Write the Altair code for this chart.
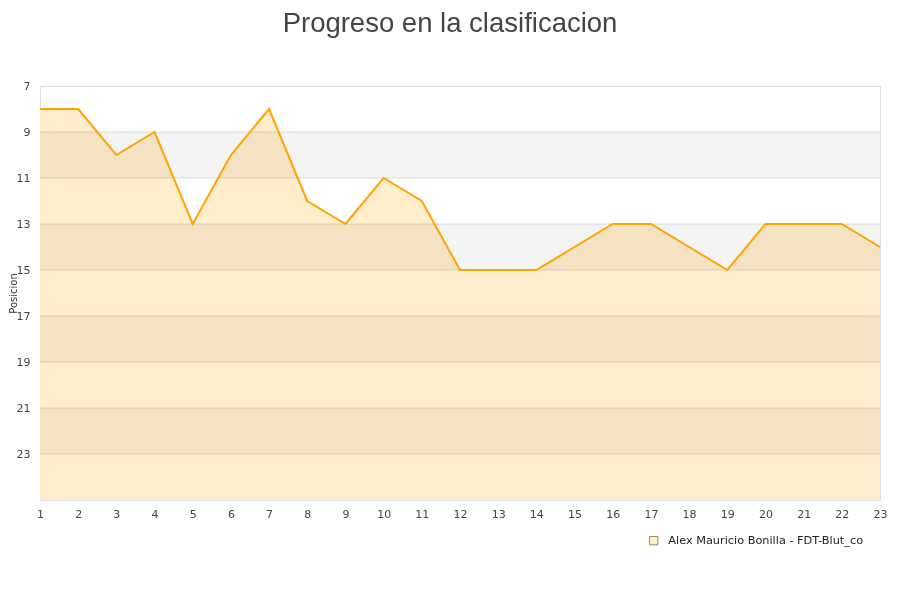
import altair as alt
import pandas as pd

jornadas = list(range(1, 24))
posiciones = [8, 8, 10, 9, 13, 10, 8, 12, 13, 11, 12, 15, 15, 15, 14, 13, 13, 14, 15, 13, 13, 13, 14]
serie = "Alex Mauricio Bonilla - FDT-Blut_co"
band_starts = [9, 13, 17, 21]
grid_vals = [9, 11, 13, 15, 17, 19, 21, 23]
y_ticks = [7, 9, 11, 13, 15, 17, 19, 21, 23]

df = pd.DataFrame({"jornada": jornadas, "pos": posiciones, "serie": [serie] * len(jornadas)})
df["base"] = 25
bands = pd.DataFrame({"y1": band_starts, "y2": [b + 2 for b in band_starts]})
grid = pd.DataFrame({"g": grid_vals})

xs = alt.Scale(domain=[1, 23], nice=False, zero=False)
ys = alt.Scale(domain=[7, 25], reverse=True, nice=False, zero=False)

x_axis = alt.Axis(values=jornadas, title=None, grid=False, ticks=False, domain=False,
                  labelOverlap=False, labelFlush=False,
                  labelFontSize=11, labelColor="#444", labelPadding=8, labelFont="DejaVu Sans")
y_axis = alt.Axis(values=y_ticks, title="Posicion", grid=False, ticks=False, domain=False,
                  labelOverlap=False, labelFlush=False,
                  labelFontSize=11, labelColor="#444", labelPadding=10, labelFont="DejaVu Sans",
                  titleFontSize=10, titleFontWeight="normal", titleColor="#333",
                  titleFont="DejaVu Sans", titleX=-22, titleY=207, titleAlign="center",
                  titleBaseline="bottom", titleAngle=270)

area = alt.Chart(df).mark_area(opacity=1).encode(
    x=alt.X("jornada:Q", scale=xs, axis=x_axis),
    y=alt.Y("pos:Q", scale=ys, axis=y_axis),
    y2="base:Q",
    fill=alt.Fill("serie:N", scale=alt.Scale(range=["#FFEDCC"]),
                  legend=alt.Legend(title=None, orient="none", legendX=608, legendY=449,
                                    symbolType="square", symbolSize=70, labelLimit=0,
                                    symbolStrokeColor="#9a8468", symbolStrokeWidth=1,
                                    labelOffset=9,
                                    labelFontSize=11.3, labelColor="#222", labelFont="DejaVu Sans")),
)
band_layer = alt.Chart(bands).mark_rect(color="#f4f4f4", blend="multiply").encode(
    x=alt.value(0), x2=alt.value(840),
    y=alt.Y("y1:Q", scale=ys, axis=y_axis), y2="y2:Q",
)
grid_layer = alt.Chart(grid).mark_rule(color="#e2e2e2", strokeWidth=1, blend="multiply").encode(
    y=alt.Y("g:Q", scale=ys, axis=y_axis), x=alt.value(0), x2=alt.value(840),
)
line = alt.Chart(df).mark_line(color="#FFA500", strokeWidth=2).encode(
    x=alt.X("jornada:Q", scale=xs, axis=x_axis),
    y=alt.Y("pos:Q", scale=ys, axis=y_axis),
)

chart = alt.layer(area, band_layer, grid_layer, line).properties(
    width=840, height=414,
    title=alt.TitleParams("Progreso en la clasificacion", fontSize=27.5, fontWeight="normal",
                          color="#444", font="Liberation Sans", anchor="middle", offset=43, dx=-10),
    autosize=alt.AutoSizeParams(type="none"),
    padding={"left": 32, "top": 78, "right": 12, "bottom": 92},
).configure_view(stroke="#dddddd", strokeWidth=1)

chart.save("out.html", embed_options={"renderer": "svg", "actions": False})
